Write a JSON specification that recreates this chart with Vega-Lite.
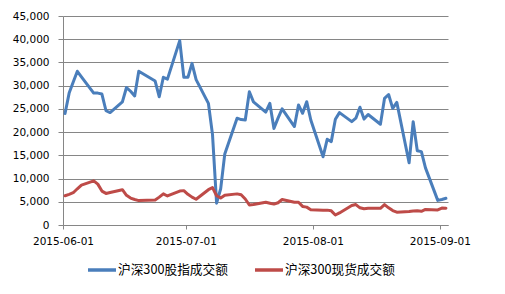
{
  "$schema": "https://vega.github.io/schema/vega-lite/v6.json",
  "width": 385,
  "height": 209,
  "autosize": {"type": "none"},
  "padding": {"left": 63, "top": 16, "right": 57, "bottom": 69},
  "background": "white",
  "config": {
    "view": {"stroke": null},
    "axis": {
      "labelFont": "DejaVu Sans",
      "labelFontSize": 10.5,
      "labelColor": "#000000",
      "domainColor": "#868686",
      "tickColor": "#868686",
      "gridColor": "#868686",
      "domainWidth": 1,
      "tickWidth": 1,
      "gridWidth": 1,
      "title": null
    }
  },
  "data": {
    "values": [
      {"date": "2015-06-01", "a": 24000, "b": 6300},
      {"date": "2015-06-02", "a": 28400, "b": 6600},
      {"date": "2015-06-03", "a": 30800, "b": 6950},
      {"date": "2015-06-04", "a": 33100, "b": 7800},
      {"date": "2015-06-05", "a": 31900, "b": 8600},
      {"date": "2015-06-08", "a": 28400, "b": 9500},
      {"date": "2015-06-09", "a": 28400, "b": 8800},
      {"date": "2015-06-10", "a": 28200, "b": 7300},
      {"date": "2015-06-11", "a": 24600, "b": 6800},
      {"date": "2015-06-12", "a": 24200, "b": 7000},
      {"date": "2015-06-15", "a": 26500, "b": 7600},
      {"date": "2015-06-16", "a": 29600, "b": 6400},
      {"date": "2015-06-17", "a": 28800, "b": 5800},
      {"date": "2015-06-18", "a": 27800, "b": 5500},
      {"date": "2015-06-19", "a": 33100, "b": 5250},
      {"date": "2015-06-23", "a": 31000, "b": 5400},
      {"date": "2015-06-24", "a": 27600, "b": 6000},
      {"date": "2015-06-25", "a": 31800, "b": 6700},
      {"date": "2015-06-26", "a": 31400, "b": 6250},
      {"date": "2015-06-29", "a": 39700, "b": 7300},
      {"date": "2015-06-30", "a": 31800, "b": 7400},
      {"date": "2015-07-01", "a": 31800, "b": 6600},
      {"date": "2015-07-02", "a": 34800, "b": 6000},
      {"date": "2015-07-03", "a": 31300, "b": 5550},
      {"date": "2015-07-06", "a": 26200, "b": 7600},
      {"date": "2015-07-07", "a": 19500, "b": 8050},
      {"date": "2015-07-08", "a": 4700, "b": 6300},
      {"date": "2015-07-09", "a": 7800, "b": 5800},
      {"date": "2015-07-10", "a": 15300, "b": 6400},
      {"date": "2015-07-13", "a": 23000, "b": 6700},
      {"date": "2015-07-14", "a": 22700, "b": 6500},
      {"date": "2015-07-15", "a": 22600, "b": 5600},
      {"date": "2015-07-16", "a": 28700, "b": 4300},
      {"date": "2015-07-17", "a": 26500, "b": 4400},
      {"date": "2015-07-20", "a": 24300, "b": 4900},
      {"date": "2015-07-21", "a": 26200, "b": 4700},
      {"date": "2015-07-22", "a": 20800, "b": 4500},
      {"date": "2015-07-23", "a": 23000, "b": 4800},
      {"date": "2015-07-24", "a": 25000, "b": 5500},
      {"date": "2015-07-27", "a": 21200, "b": 4900},
      {"date": "2015-07-28", "a": 25850, "b": 4900},
      {"date": "2015-07-29", "a": 24050, "b": 4000},
      {"date": "2015-07-30", "a": 26550, "b": 3850},
      {"date": "2015-07-31", "a": 22600, "b": 3300},
      {"date": "2015-08-03", "a": 14700, "b": 3200},
      {"date": "2015-08-04", "a": 18450, "b": 3200},
      {"date": "2015-08-05", "a": 17950, "b": 3050},
      {"date": "2015-08-06", "a": 22750, "b": 2150},
      {"date": "2015-08-07", "a": 24200, "b": 2600},
      {"date": "2015-08-10", "a": 22250, "b": 4200},
      {"date": "2015-08-11", "a": 23000, "b": 4400},
      {"date": "2015-08-12", "a": 25350, "b": 3700},
      {"date": "2015-08-13", "a": 22800, "b": 3500},
      {"date": "2015-08-14", "a": 23800, "b": 3600},
      {"date": "2015-08-17", "a": 21700, "b": 3600},
      {"date": "2015-08-18", "a": 27250, "b": 4400},
      {"date": "2015-08-19", "a": 28100, "b": 3700},
      {"date": "2015-08-20", "a": 25100, "b": 3100},
      {"date": "2015-08-21", "a": 26400, "b": 2750},
      {"date": "2015-08-24", "a": 13400, "b": 2900},
      {"date": "2015-08-25", "a": 22250, "b": 3000},
      {"date": "2015-08-26", "a": 16000, "b": 3050},
      {"date": "2015-08-27", "a": 15800, "b": 2950},
      {"date": "2015-08-28", "a": 12300, "b": 3350},
      {"date": "2015-08-31", "a": 5300, "b": 3250},
      {"date": "2015-09-01", "a": 5500, "b": 3650},
      {"date": "2015-09-02", "a": 5750, "b": 3600}
    ]
  },
  "transform": [
    {"fold": ["a", "b"], "as": ["key", "value"]},
    {"lookup": "key", "from": {"data": {"values": [{"key": "a", "series": "沪深300股指成交额"}, {"key": "b", "series": "沪深300现货成交额"}]}, "key": "key", "fields": ["series"]}}
  ],
  "mark": {"type": "line", "strokeWidth": 3, "strokeJoin": "round", "strokeCap": "round"},
  "encoding": {
    "x": {
      "field": "date",
      "type": "temporal",
      "timeUnit": "utcyearmonthdate",
      "bandPosition": 0.5,
      "scale": {
        "type": "utc",
        "nice": false,
        "domain": [
          {"year": 2015, "month": 6, "date": 1, "utc": true},
          {"year": 2015, "month": 9, "date": 3, "utc": true}
        ]
      },
      "axis": {
        "values": [
          {"year": 2015, "month": 6, "date": 1, "utc": true},
          {"year": 2015, "month": 7, "date": 1, "utc": true},
          {"year": 2015, "month": 8, "date": 1, "utc": true},
          {"year": 2015, "month": 9, "date": 1, "utc": true}
        ],
        "labelExpr": "utcFormat(datum.value, '%Y-%m-%d')",
        "grid": false,
        "tickSize": 4,
        "labelPadding": 7,
        "labelFlush": false,
        "labelOverlap": false
      }
    },
    "y": {
      "field": "value",
      "type": "quantitative",
      "scale": {"domain": [0, 45000], "nice": false},
      "axis": {
        "values": [0, 5000, 10000, 15000, 20000, 25000, 30000, 35000, 40000, 45000],
        "format": ",d",
        "grid": true,
        "tickSize": 5,
        "labelPadding": 9
      }
    },
    "color": {
      "field": "series",
      "type": "nominal",
      "scale": {"domain": ["沪深300股指成交额", "沪深300现货成交额"], "range": ["#4A7EBB", "#BE4B48"]},
      "legend": {
        "title": null,
        "orient": "none",
        "direction": "horizontal",
        "legendX": 23,
        "legendY": 238,
        "padding": 0,
        "symbolType": "stroke",
        "symbolSize": 784,
        "symbolStrokeWidth": 3.5,
        "labelOffset": 0,
        "columnPadding": 20,
        "labelFont": "Noto Sans CJK SC",
        "labelFontSize": 12.7,
        "labelColor": "#000000",
        "labelLimit": 300
      }
    }
  }
}
